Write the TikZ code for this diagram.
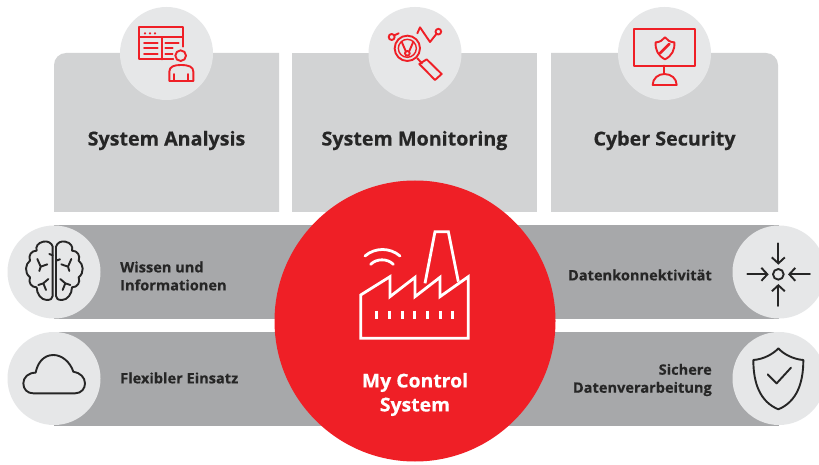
\documentclass[tikz,border=0pt]{standalone}
\usepackage{fontspec}
\setmainfont{Open Sans}[BoldFeatures={FakeStretch=1.02,FakeBold=0.4}]
\usetikzlibrary{arrows.meta}
\definecolor{cardgrey}{HTML}{D2D3D4}
\definecolor{discgrey}{HTML}{E6E7E8}
\definecolor{bandgrey}{HTML}{A7A8AA}
\definecolor{abbred}{HTML}{EF1F26}
\definecolor{ink}{HTML}{262626}
\tikzset{
  card/.style={fill=cardgrey,draw=none},
  disc/.style={circle,fill=discgrey,draw=none,minimum size=93pt,inner sep=0pt},
  band/.style={fill=bandgrey,draw=none},
  cardlabel/.style={font=\bfseries\fontsize{19.3}{22}\selectfont,text=ink,inner sep=0pt},
  bandlabel/.style={font=\bfseries\fontsize{14.3}{18}\selectfont,text=ink,inner sep=0pt,align=left},
  bandlabelr/.style={bandlabel,align=right},
  redicon/.style={draw=abbred,line width=1.9pt,line join=round,line cap=round},
  blackicon/.style={draw=ink,line width=1.9pt,line join=round,line cap=round},
  whiteicon/.style={draw=white,line width=2.8pt,line join=miter},
  iconframe/.style={scale=1/3}
}
\begin{document}
\begin{tikzpicture}[x=1pt,y=-1pt]
\useasboundingbox (0,0) rectangle (819,465);
\clip (0,0) rectangle (819,465);
\fill[white] (0,0) rectangle (819,465);
% cards
\path[card] (54,212) -- (54,65) arc[start angle=180,end angle=90,x radius=12,y radius=-12] -- (279,53) -- (279,212) -- cycle;
\path[card] (292,53) rectangle (537,212);
\path[card] (551,53) -- (766,53) arc[start angle=90,end angle=0,x radius=12,y radius=-12] -- (778,212) -- (551,212) -- cycle;
% bands
\path[band] (54,225) rectangle (779,319);
\path[band] (54,332) rectangle (779,426);
% discs
\node[disc] (d1) at (166.5,53.5) {};
\node[disc] (d2) at (415,53.5) {};
\node[disc] (d3) at (664.5,53.5) {};
\node[disc] (d4) at (54,272) {};
\node[disc] (d5) at (54,378.5) {};
\node[disc] (d6) at (779,272) {};
\node[disc] (d7) at (779,378.5) {};
\node[circle,fill=abbred,minimum size=281pt,inner sep=0pt] (hub) at (415,321) {};
% card labels
\node[cardlabel] (l1) at (166.5,140.5) {System Analysis};
\node[cardlabel] (l2) at (414.5,140.5) {System Monitoring};
\node[cardlabel] (l3) at (664.5,140.5) {Cyber Security};
% band labels
\node[bandlabel,anchor=west] (l4) at (120,276) {Wissen und\\Informationen};
\node[bandlabel,anchor=west] (l5) at (120,378) {Flexibler Einsatz};
\node[bandlabelr,anchor=east] (l6) at (712,275) {Datenkonnektivität};
\node[bandlabelr,anchor=east] (l7) at (712,380) {Sichere\\Datenverarbeitung};
\node[font=\bfseries\fontsize{19}{24}\selectfont,text=white,align=center,inner sep=0pt] (l8) at (415,394.5) {My Control\\System};
% icon 1
\begin{scope}[shift={(110,0)},iconframe]
\draw[redicon] (190,178) -- (88,178) -- (88,82) -- (218,82) -- (218,140);
\draw[redicon] (88,112) -- (218,112);
\draw[redicon] (155,112) -- (155,178);
\foreach \q in {105,120,135} \fill[abbred] (\q,100) circle (3.6);
\foreach \q in {128,145,162} \draw[redicon] (102,\q) -- (143,\q);
\draw[redicon] (166,128) -- (206,128);
\draw[redicon] (166,145) -- (188,145);
\draw[redicon] (166,162) -- (188,162);
\fill[discgrey] (212,167) circle (22);
\draw[redicon] (212,167) circle (16);
\draw[redicon] (178,243) -- (178,215) .. controls (178,200) and (192,195) .. (212,195) .. controls (236,195) and (250,200) .. (250,215) -- (250,243) -- cycle;
\draw[redicon] (193,222) -- (193,243) (235,222) -- (235,243);
\end{scope}
% icon 2
\begin{scope}[shift={(360,0)},iconframe]
\draw[redicon] (142,145) circle (38);
\draw[redicon,line width=1.4pt] (142,145) circle (27);
\draw[redicon] (125,125) -- (137,153) (160,125) -- (148,153);
\draw[redicon] (142,160) circle (7);
\draw[redicon] (172,175) -- (186,190);
\draw[redicon] (178,192) -- (200,178) -- (245,222) -- (225,240) -- cycle;
\draw[redicon] (95,111) circle (9) (103,106) -- (116,100);
\draw[redicon] (172,100) -- (180,82) -- (210,126) -- (229,102);
\draw[redicon] (235,95) circle (8.5);
\end{scope}
% icon 3
\begin{scope}[shift={(610,0)},iconframe]
\draw[redicon] (72,88) rectangle (255,197);
\draw[redicon] (163,197) -- (163,222);
\draw[redicon] (128,255) .. controls (128,235) and (145,222) .. (163,222) .. controls (183,222) and (200,235) .. (200,255) -- cycle;
\draw[redicon] (137,127) .. controls (150,127) and (158,120) .. (165,112) .. controls (172,120) and (180,127) .. (193,127) .. controls (195,150) and (185,168) .. (165,178) .. controls (145,168) and (135,150) .. (137,127) -- cycle;
\draw[redicon,line width=2.6pt] (150,160) -- (178,132);
\end{scope}
% factory icon
\begin{scope}[shift={(340,220)},iconframe]
\draw[whiteicon] (62,355) -- (62,225) -- (150,170) -- (150,230) -- (225,172) -- (225,230) -- (300,172) -- (300,230) -- (385,170) -- (385,355) -- cycle;
\draw[whiteicon] (255,190) -- (285,35) -- (325,35) -- (355,185);
\foreach \q in {110,148,186,224,262,300,338} \draw[whiteicon,line width=3pt] (\q,272) -- (\q,298);
\draw[whiteicon,line cap=round] (75,108) .. controls (105,82) and (150,82) .. (180,108);
\draw[whiteicon,line cap=round] (92,133) .. controls (110,115) and (142,115) .. (160,133);
\end{scope}
% brain icon
\begin{scope}[shift={(0,220)},iconframe]
\foreach \m/\o in {1/0,-1/326}{
\begin{scope}[xshift=\o,xscale=\m]
\draw[blackicon] (158,228) -- (158,80) .. controls (155,68) and (142,62) .. (130,65) .. controls (114,68) and (106,80) .. (110,92) .. controls (94,92) and (84,106) .. (90,122) .. controls (76,132) and (72,158) .. (90,172) .. controls (84,188) and (94,202) .. (110,202) .. controls (110,222) and (124,240) .. (140,240) .. controls (152,240) and (158,236) .. (158,228);
\draw[blackicon] (112,117) -- (122,140) -- (142,133) (122,140) -- (118,153);
\draw[blackicon] (145,177) -- (130,190) -- (115,195) (130,190) -- (138,210);
\end{scope}}
\draw[blackicon] (148,102) -- (158,106);
\draw[blackicon] (168,122) -- (180,118);
\end{scope}
% cloud icon
\begin{scope}[shift={(0,220)},iconframe]
\draw[blackicon] (100,520) -- (225,520) .. controls (245,520) and (255,505) .. (255,490) .. controls (255,472) and (240,458) .. (220,455) .. controls (210,425) and (185,405) .. (160,405) .. controls (130,405) and (112,430) .. (107,458) .. controls (85,458) and (70,472) .. (70,490) .. controls (70,508) and (82,520) .. (100,520) -- cycle;
\end{scope}
% arrows icon
\begin{scope}[shift={(720,220)},iconframe]
\draw[blackicon] (175,163) circle (16);
\tikzset{inward/.style={blackicon,-{Straight Barb[length=6pt,width=13pt,line width=1.9pt]}}}
\draw[inward] (175,70) -- (175,134);
\draw[inward] (175,258) -- (175,192);
\draw[inward] (82,163) -- (146,163);
\draw[inward] (270,163) -- (204,163);
\end{scope}
% shield icon
\begin{scope}[shift={(720,220)},iconframe]
\draw[blackicon] (175,385) .. controls (160,402) and (130,418) .. (100,420) .. controls (100,490) and (120,545) .. (175,568) .. controls (230,545) and (250,490) .. (250,420) .. controls (220,418) and (190,402) .. (175,385) -- cycle;
\draw[blackicon] (143,463) -- (170,490) -- (213,443);
\end{scope}
\end{tikzpicture}
\end{document}
